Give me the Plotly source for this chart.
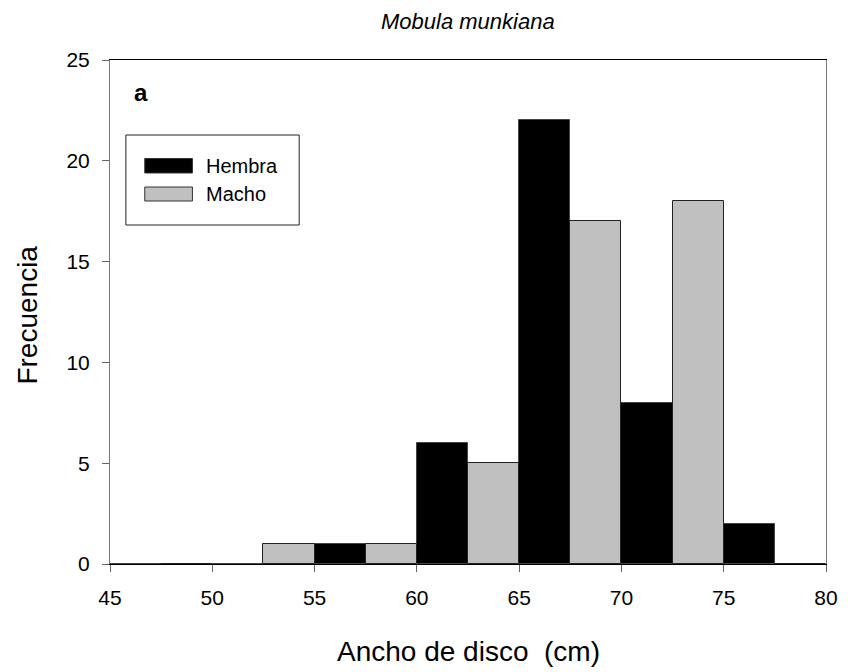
import plotly.graph_objects as go

# Data: bins of 5 cm (centers), counts per sex
bin_centers = [47.5, 52.5, 57.5, 62.5, 67.5, 72.5, 77.5]
hembra = [0, 0, 1, 6, 22, 8, 2]
macho = [0, 1, 1, 5, 17, 18, 0]
x_ticks = [45, 50, 55, 60, 65, 70, 75, 80]
y_ticks = [0, 5, 10, 15, 20, 25]

FONT = "Arial, Liberation Sans, sans-serif"
W, H = 850, 672
L, R, T, B = 110, 831, 60, 564


def px(x):
    return (x - L) / (R - L)


def py(y):
    return (B - y) / (B - T)


fig = go.Figure()
fig.add_trace(go.Bar(x=bin_centers, y=hembra, name="Hembra",
                     marker=dict(color="black", line=dict(color="#444", width=1)),
                     showlegend=False))
fig.add_trace(go.Bar(x=bin_centers, y=macho, name="Macho",
                     marker=dict(color="#c0c0c0", line=dict(color="#222", width=1)),
                     showlegend=False))

shapes = [
    # legend box
    dict(type="rect", xref="paper", yref="paper", x0=px(126), x1=px(300.5), y0=py(225), y1=py(135),
         line=dict(color="#222", width=1), fillcolor="white", layer="above"),
    dict(type="rect", xref="paper", yref="paper", x0=px(145), x1=px(193), y0=py(173), y1=py(158.5),
         line=dict(color="#333", width=1), fillcolor="black", layer="above"),
    dict(type="rect", xref="paper", yref="paper", x0=px(145), x1=px(193), y0=py(201), y1=py(187),
         line=dict(color="#333", width=1), fillcolor="#c0c0c0", layer="above"),
]

annotations = [
    dict(text="Hembra", xref="paper", yref="paper", x=px(205), y=py(166), xanchor="left", yanchor="middle",
         showarrow=False, font=dict(family=FONT, size=20, color="black")),
    dict(text="Macho", xref="paper", yref="paper", x=px(205), y=py(194), xanchor="left", yanchor="middle",
         showarrow=False, font=dict(family=FONT, size=20, color="black")),
    dict(text="<b>a</b>", xref="paper", yref="paper", x=px(132), y=py(92), xanchor="left", yanchor="middle",
         showarrow=False, font=dict(family=FONT, size=24, color="black")),
    dict(text="<i>Mobula munkiana</i>", xref="paper", yref="paper", x=0.5, y=py(21), xanchor="center",
         yanchor="middle", showarrow=False, font=dict(family=FONT, size=22, color="black")),
    dict(text="Ancho de disco  (cm)", xref="paper", yref="paper", x=0.5, y=py(651), xanchor="center",
         yanchor="middle", showarrow=False, font=dict(family=FONT, size=28, color="black")),
    dict(text="Frecuencia", xref="paper", yref="paper", x=px(26), y=py(315), xanchor="center",
         yanchor="middle", textangle=-90, showarrow=False, font=dict(family=FONT, size=28, color="black")),
]

fig.update_layout(
    width=W, height=H,
    margin=dict(l=L, r=W - R, t=T, b=H - B, pad=0),
    paper_bgcolor="white", plot_bgcolor="white",
    barmode="group", bargap=0, bargroupgap=0,
    shapes=shapes, annotations=annotations,
    font=dict(family=FONT, color="black"),
)
fig.update_xaxes(range=[45, 80], tickvals=x_ticks, ticks="outside", ticklen=7, tickcolor="#666",
                 showline=True, linecolor="black", linewidth=1, mirror=True, showgrid=False, zeroline=False,
                 tickfont=dict(family=FONT, size=21, color="black"), ticklabelstandoff=8)
fig.update_yaxes(range=[0, 25], tickvals=y_ticks, ticks="outside", ticklen=7, tickcolor="#666",
                 showline=True, linecolor="#777", linewidth=1, mirror=True, showgrid=False, zeroline=False,
                 tickfont=dict(family=FONT, size=21, color="black"), ticklabelstandoff=8)

fig.write_html("out.html")
